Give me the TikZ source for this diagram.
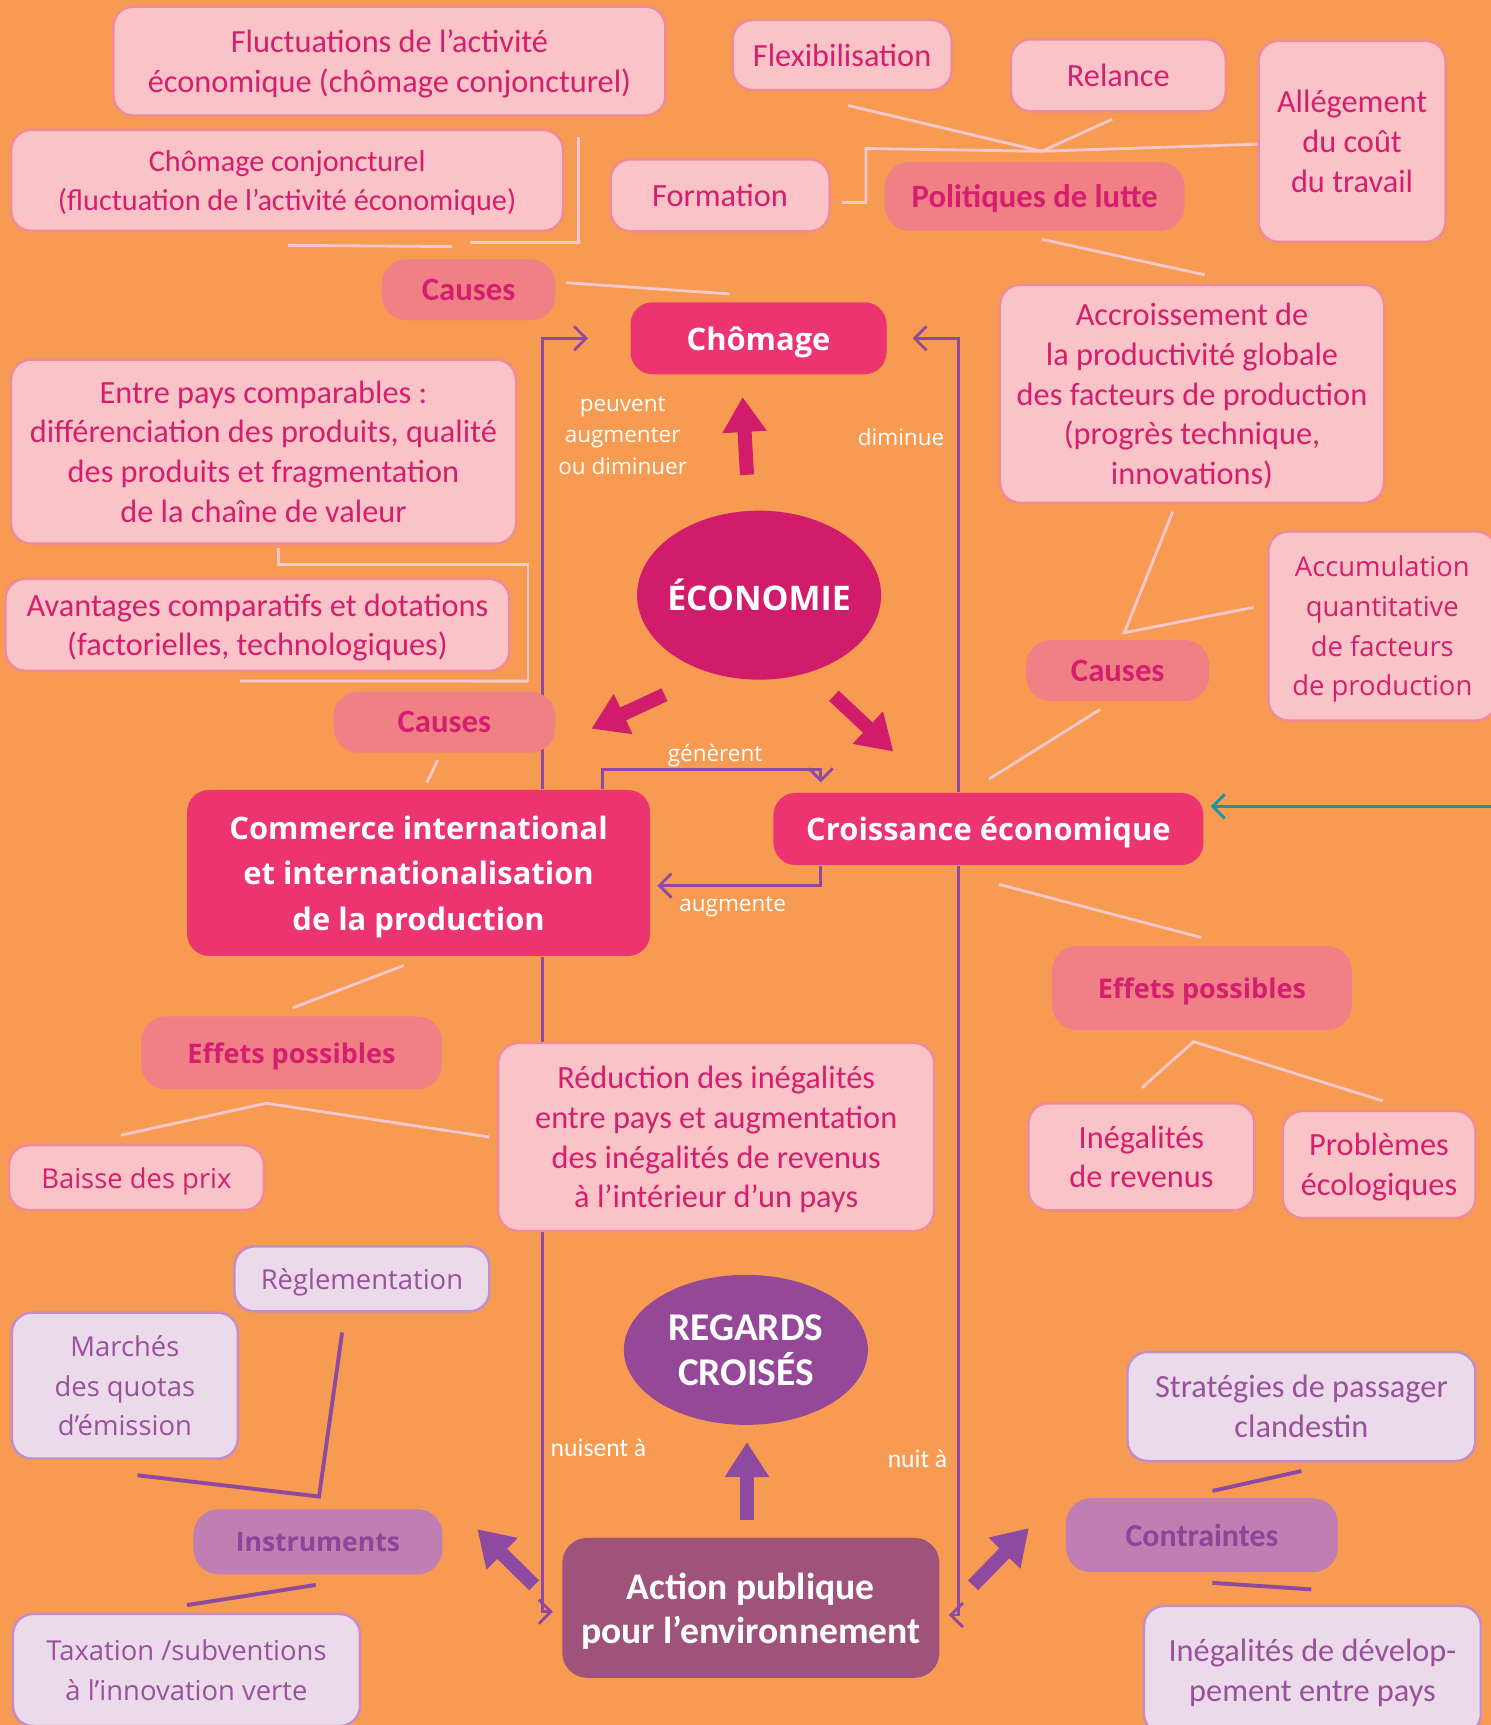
\documentclass[tikz,border=0pt]{standalone}
\usepackage{fontspec}
\setmainfont{Carlito}
\newfontfamily\opensans{Open Sans}
\usepackage{tikz}
\usetikzlibrary{arrows.meta, calc, backgrounds, shapes.geometric}

\definecolor{bgorange}{HTML}{F79B53}
\definecolor{boxfill}{HTML}{F9C3C8}
\definecolor{boxline}{HTML}{EF8A96}
\definecolor{txtpink}{HTML}{D51F6E}
\definecolor{salmon}{HTML}{F18086}
\definecolor{hotpink}{HTML}{EC3471}
\definecolor{ecomag}{HTML}{D01C6B}
\definecolor{regviolet}{HTML}{964898}
\definecolor{actmauve}{HTML}{9F527A}
\definecolor{lavfill}{HTML}{EADAEA}
\definecolor{lavline}{HTML}{C58CC8}
\definecolor{lavtxt}{HTML}{9B509D}
\definecolor{violetfill}{HTML}{C17EB2}
\definecolor{violettxt}{HTML}{8E4498}
\definecolor{arrviolet}{HTML}{8E4AA0}
\definecolor{stempink}{HTML}{F8C8CD}
\definecolor{tealline}{HTML}{1496AA}

\begin{document}
\begin{tikzpicture}[x=0.011cm, y=-0.011cm,
    lbox/.style={draw=boxline, fill=boxfill, rounded corners=0.2cm, line width=0.7pt, text=txtpink, align=center, inner sep=0pt, font=\fontsize{9.2}{11.3}\selectfont, text depth=-0.7pt},
    lboxw/.style={lbox, font=\opensans\fontsize{7.8}{11.3}\selectfont, text depth=-0.9pt},
    sbox/.style={fill=salmon, rounded corners=0.25cm, text=txtpink, align=center, inner sep=0pt, font=\bfseries\fontsize{9.3}{11}\selectfont, text depth=-0.9pt},
    sboxw/.style={sbox, font=\opensans\bfseries\fontsize{7.7}{11}\selectfont, text depth=-1.3pt},
    hbox/.style={fill=hotpink, rounded corners=0.22cm, text=white, align=center, inner sep=0pt, font=\opensans\bfseries\fontsize{8.8}{13}\selectfont, text depth=-1pt},
    vbox/.style={draw=lavline, fill=lavfill, rounded corners=0.2cm, line width=0.7pt, text=lavtxt, align=center, inner sep=0pt, font=\fontsize{9.2}{11.3}\selectfont, text depth=-0.7pt},
    vboxw/.style={vbox, font=\opensans\fontsize{7.8}{11.3}\selectfont, text depth=-0.8pt},
    ibox/.style={fill=violetfill, rounded corners=0.25cm, text=violettxt, align=center, inner sep=0pt, font=\bfseries\fontsize{9.1}{11}\selectfont, text depth=-0.6pt},
    iboxw/.style={ibox, font=\opensans\bfseries\fontsize{7.55}{11}\selectfont, text depth=-1.2pt},
    lab/.style={text=white, align=center, inner sep=0pt, font=\opensans\fontsize{6.4}{9}\selectfont},
    labc/.style={text=white, align=center, inner sep=0pt, font=\fontsize{7.3}{9}\selectfont},
    stem/.style={draw=stempink, line width=0.8pt},
    vstem/.style={draw=arrviolet, line width=1.1pt},
    backlink/.style={draw=arrviolet, line width=0.8pt, -{Straight Barb[length=0.12cm, width=0.24cm]}},
    bigarrow/.style={line width=4pt, -{Triangle[length=0.35cm, width=0.42cm]}}]
\useasboundingbox (0,0) rectangle (1355,1568);

% Define the boxes
\node[lbox, minimum width=5.52cm, minimum height=1.09cm, text depth=-2pt] (fluct) at (354,55.5) {Fluctuations de l’activité\\économique (chômage conjoncturel)};
\node[lbox, minimum width=5.52cm, minimum height=1.01cm, font=\fontsize{8.6}{11.3}\selectfont] (chomconj) at (261,164) {Chômage conjoncturel\\(fluctuation de l'activité économique)};
\node[lbox, minimum width=2.19cm, minimum height=0.70cm] (flexi) at (765.5,50) {Flexibilisation};
\node[lbox, minimum width=2.15cm, minimum height=0.72cm] (relance) at (1016.5,68.5) {Relance};
\node[lbox, minimum width=1.87cm, minimum height=2.01cm] (allegement) at (1229,128.5) {Allégement\\du coût\\du travail};
\node[lbox, minimum width=2.19cm, minimum height=0.72cm] (formation) at (654.5,177.5) {Formation};
\node[lbox, minimum width=3.84cm, minimum height=2.18cm] (accroissement) at (1083.5,358) {Accroissement de\\la productivité globale\\des facteurs de production\\(progrès technique,\\innovations)};
\node[lbox, minimum width=5.05cm, minimum height=1.84cm] (entrepays) at (239.5,410.5) {Entre pays comparables :\\différenciation des produits, qualité\\des produits et fragmentation\\de la chaîne de valeur};
\node[lbox, minimum width=5.04cm, minimum height=0.92cm] (avantages) at (234,568) {Avantages comparatifs et dotations\\(factorielles, technologiques)};
\node[lboxw, minimum width=2.28cm, minimum height=1.89cm, text depth=-2pt] (accumulation) at (1256.5,569) {Accumulation\\quantitative\\de facteurs\\de production};
\node[lboxw, minimum width=2.55cm, minimum height=0.65cm] (baisse) at (124,1070.5) {Baisse des prix};
\node[lbox, minimum width=4.36cm, minimum height=1.88cm, text depth=-2pt] (reduction) at (651,1033.5) {Réduction des inégalités\\entre pays et augmentation\\des inégalités de revenus\\à l’intérieur d’un pays};
\node[lbox, minimum width=2.26cm, minimum height=1.07cm] (inegrev) at (1037.5,1051.5) {Inégalités\\de revenus};
\node[lbox, minimum width=1.93cm, minimum height=1.07cm] (problemes) at (1253.5,1058.5) {Problèmes\\écologiques};

\node[sbox, minimum width=1.74cm, minimum height=0.61cm] (causes1) at (426,263.5) {Causes};
\node[sbox, minimum width=3.00cm, minimum height=0.69cm] (politiques) at (940.5,178.5) {Politiques de lutte};
\node[sbox, minimum width=2.22cm, minimum height=0.61cm] (causes2) at (404,656.5) {Causes};
\node[sbox, minimum width=1.83cm, minimum height=0.61cm] (causes3) at (1016,609.5) {Causes};
\node[sboxw, minimum width=3.01cm, minimum height=0.73cm] (effets1) at (265,957) {Effets possibles};
\node[sboxw, minimum width=3.00cm, minimum height=0.84cm] (effets2) at (1092.5,898) {Effets possibles};

\node[hbox, minimum width=2.56cm, minimum height=0.72cm] (chomage) at (689.5,307.5) {Chômage};
\node[hbox, minimum width=4.63cm, minimum height=1.66cm] (commerce) at (380.5,793.5) {Commerce international\\et internationalisation\\de la production};
\node[hbox, minimum width=4.30cm, minimum height=0.72cm] (croissance) at (898.5,753.5) {Croissance économique};

\node[ellipse, fill=ecomag, minimum width=2.44cm, minimum height=1.69cm, inner sep=0pt, inner xsep=-0.3cm, text=white, font=\opensans\bfseries\fontsize{9.65}{11}\selectfont, text depth=-1.25pt] (economie) at (690,541) {ÉCONOMIE};
\node[ellipse, fill=regviolet, minimum width=2.44cm, minimum height=1.50cm, inner sep=0pt, text=white, align=center, font=\bfseries\fontsize{11.2}{12.8}\selectfont, text depth=-1.5pt] (regards) at (678,1227) {REGARDS\\CROISÉS};
\node[fill=actmauve, rounded corners=0.25cm, minimum width=3.77cm, minimum height=1.40cm, inner sep=0pt, text=white, align=center, font=\bfseries\fontsize{10.7}{12.5}\selectfont, text depth=-0.9pt] (action) at (682.5,1461.5) {Action publique\\pour l’environnement};

\node[vboxw, minimum width=2.55cm, minimum height=0.65cm] (reglementation) at (329,1162.5) {Règlementation};
\node[vboxw, minimum width=2.26cm, minimum height=1.46cm] (marches) at (113.5,1259.5) {Marchés\\des quotas\\d’émission};
\node[vboxw, minimum width=3.47cm, minimum height=1.12cm] (taxation) at (169.5,1518) {Taxation /subventions\\à l’innovation verte};
\node[vbox, minimum width=3.48cm, minimum height=1.09cm] (strategies) at (1183,1278.5) {Stratégies de passager\\clandestin};
\node[vbox, minimum width=3.37cm, minimum height=1.28cm] (inegdev) at (1193,1518) {Inégalités de dévelop-\\pement entre pays};
\node[iboxw, minimum width=2.49cm, minimum height=0.65cm] (instruments) at (289,1401.5) {Instruments};
\node[ibox, minimum width=2.72cm, minimum height=0.74cm] (contraintes) at (1092.5,1395.5) {Contraintes};

% Labels of the links
\node[lab] (lpeuvent) at (566,396) {peuvent\\augmenter\\ou diminuer};
\node[lab] (ldiminue) at (819,397) {diminue};
\node[lab] (lgenerent) at (650,687) {génèrent};
\node[lab] (laugmente) at (666,824) {augmente};
\node[labc] (lnuisent) at (544,1316) {nuisent à};
\node[labc] (lnuit) at (834,1326) {nuit à};

\coordinate (tealin) at (1362,733);

\begin{scope}[on background layer]
\fill[bgorange] (0,0) rectangle (1355,1568);
% Define the links
\draw[backlink] ($(commerce.north)+(112.5,0)$) |- ($(chomage.west)+(-38,0)$);
\draw[backlink] ($(commerce.south)+(112.5,0)$) |- ($(action.west)+(-8,3.5)$);
\draw[backlink] ($(croissance.north)+(-27.5,0)$) |- ($(chomage.east)+(23,0)$);
\draw[backlink] ($(croissance.south)+(-27.5,0)$) |- ($(action.east)+(8,6.5)$);
\draw[backlink] ($(commerce.north)+(167.5,0)$) -- ++(0,-18) -| ($(croissance.north)+(-152.5,-9)$);
\draw[backlink] ($(croissance.south)+(-152.5,0)$) |- ($(commerce.east)+(6,11.5)$);
\draw[backlink, draw=tealline] (tealin) -- ($(croissance.east)+(6,-20.5)$);

\draw[stem] ($(chomconj.south)+(1,12)$) -- ($(causes1.north)+(-15,-11)$);
\draw[stem] ($(fluct.south)+(172,18)$) |- ($(causes1.north)+(1,-15)$);
\draw[stem] ($(causes1.east)+(9,-6.5)$) -- ($(chomage.north)+(-26.5,-7)$);
\coordinate (polhub) at ($(politiques.north)+(6.5,-9)$);
\draw[stem] ($(flexi.south)+(5.5,13)$) -- (polhub) -- ($(relance.south)+(-5.5,6)$);
\draw[stem] (polhub) -- ($(allegement.west)+(1,2.5)$);
\draw[stem] ($(formation.east)+(10,6.5)$) -- ++(22,0) -- ++(0,-49) -- (polhub);
\draw[stem] ($(politiques.south)+(6.5,7)$) -- ($(accroissement.north)+(11.5,-8)$);
\coordinate (c3hub) at ($(causes3.north)+(6,-6)$);
\draw[stem] ($(accroissement.south)+(-17.5,7)$) -- (c3hub) -- ($(accumulation.west)+(-12,-17)$);
\draw[stem] ($(causes3.south)+(-16,7)$) -- ($(croissance.north)+(0.5,-12)$);
\draw[stem] ($(croissance.south)+(9.5,17)$) -- ($(effets2.north)+(-0.5,-7)$);
\coordinate (e2hub) at ($(effets2.south)+(-7.5,10)$);
\draw[stem] ($(inegrev.north)+(0.5,-13)$) -- (e2hub) -- ($(problemes.north)+(3.5,-8)$);
\draw[stem] ($(entrepays.south)+(13.5,3)$) -- ++(0,15) -| ($(causes2.north)+(76,-9)$);
\draw[stem] ($(avantages.south)+(-16,8)$) -- ($(causes2.north)+(76,-9)$);
\draw[stem] ($(causes2.south)+(-6,6)$) -- ($(commerce.north)+(7.5,-6)$);
\draw[stem] ($(commerce.south)+(-13.5,8)$) -- ($(effets1.north)+(1,-7)$);
\coordinate (e1hub) at ($(effets1.south)+(-23,12)$);
\draw[stem] ($(baisse.north)+(-14,-8)$) -- (e1hub) -- ($(reduction.west)+(-7,0)$);

\coordinate (inhub) at ($(instruments.north)+(1,-11)$);
\draw[vstem] ($(marches.south)+(11.5,14)$) -- (inhub) -- ($(reglementation.south)+(-18,18)$);
\draw[vstem] ($(instruments.south)+(-2,9)$) -- ($(taxation.north)+(0.5,-7)$);
\draw[vstem] ($(strategies.south)+(0,8)$) -- ($(contraintes.north)+(9.5,-6)$);
\draw[vstem] ($(contraintes.south)+(9.5,9)$) -- ($(inegdev.north)+(-1,-14)$);

% Big arrows
\draw[bigarrow, ecomag] ($(economie.north)+(-11,-32)$) -- ($(chomage.south)+(-14.5,20)$);
\draw[bigarrow, ecomag] ($(economie.south)+(-86,13)$) -- ($(commerce.north east)+(-54,-55)$);
\draw[bigarrow, ecomag] ($(economie.south)+(68,14)$) -- ($(croissance.north)+(-86.5,-37)$);
\draw[bigarrow, arrviolet] ($(action.north)+(-3.5,-16)$) -- ($(regards.south)+(1,15)$);
\draw[bigarrow, arrviolet] ($(action.west)+(-25,-20.5)$) -- ($(instruments.east)+(31,-11.5)$);
\draw[bigarrow, arrviolet] ($(action.east)+(30,-20.5)$) -- ($(contraintes.west)+(-33,-6.5)$);
\end{scope}

\end{tikzpicture}
\end{document}
